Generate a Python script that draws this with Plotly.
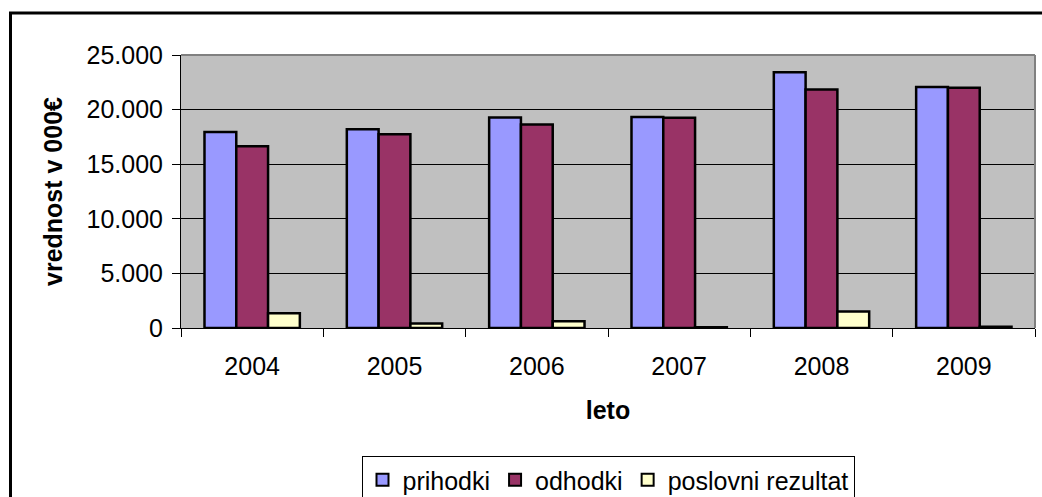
import plotly.graph_objects as go

years = ["2004", "2005", "2006", "2007", "2008", "2009"]
prihodki = [17950, 18200, 19280, 19330, 23430, 22080]
odhodki = [16650, 17750, 18640, 19250, 21850, 22000]
poslovni_rezultat = [1350, 420, 620, 60, 1520, 110]
series_names = ["prihodki", "odhodki", "poslovni rezultat"]
series_colors = ["#9999FF", "#993366", "#FFFFCC"]
y_ticks = [0, 5000, 10000, 15000, 20000, 25000]

W, H = 1042, 497
L, R, T, B = 181, 7, 55, 169
pw, ph = W - L - R, H - T - B

def px_to_paper_x(px):
    return (px - L) / pw

def px_to_paper_y(py):
    return 1 - (py - T) / ph

fig = go.Figure()
for name, vals, col in zip(series_names, [prihodki, odhodki, poslovni_rezultat], series_colors):
    fig.add_trace(go.Bar(
        x=years, y=vals, name=name,
        marker=dict(color=col, line=dict(color="black", width=2.5)),
    ))

font_family = "Liberation Sans, Arial, sans-serif"

fig.update_layout(
    width=W, height=H,
    margin=dict(l=L, r=R, t=T, b=B, autoexpand=False),
    paper_bgcolor="white",
    plot_bgcolor="#C0C0C0",
    barmode="group",
    bargap=0.33,
    bargroupgap=0,
    separators=",.",
    font=dict(family=font_family, size=24, color="black"),
    showlegend=True,
    legend=dict(
        orientation="h",
        x=0.5, xanchor="center",
        y=px_to_paper_y(456), yanchor="top",
        bordercolor="black", borderwidth=1,
        bgcolor="white",
        font=dict(size=25),
        itemsizing="constant",
        tracegroupgap=0,
    ),
    xaxis=dict(
        type="category",
        showgrid=False,
        showline=True, linecolor="black", linewidth=1,
        ticks="outside", ticklen=8, tickcolor="black", tickwidth=1,
        tickson="boundaries",
        tickfont=dict(size=25),
        ticklabelstandoff=16,
        title=dict(text="<b>leto</b>", font=dict(size=25), standoff=22),
        automargin=False,
        mirror=False,
    ),
    yaxis=dict(
        range=[0, 25000],
        tickvals=y_ticks,
        tickformat=",d",
        showgrid=True, gridcolor="#000000", gridwidth=1,
        showline=True, linecolor="black", linewidth=1,
        ticks="outside", ticklen=8, tickcolor="black", tickwidth=1,
        tickfont=dict(size=25),
        ticklabelstandoff=4,
        title=dict(text="<b>vrednost v 000€</b>", font=dict(size=25), standoff=16),
        automargin=False,
        zeroline=False,
    ),
    shapes=[
        dict(type="line", xref="paper", yref="paper", x0=0, x1=1, y0=1, y1=1,
             line=dict(color="#808080", width=2), layer="above"),
        dict(type="line", xref="paper", yref="paper", x0=1, x1=1, y0=0, y1=1,
             line=dict(color="#808080", width=2), layer="above"),
        dict(type="rect", xref="paper", yref="paper",
             x0=px_to_paper_x(10.5), x1=px_to_paper_x(1060),
             y0=px_to_paper_y(520), y1=px_to_paper_y(13),
             line=dict(color="black", width=3), layer="above"),
    ],
)

fig.write_html(
    "out.html",
    config={"displayModeBar": False},
    post_script="document.body.style.margin='0';document.body.style.overflow='hidden';",
)
